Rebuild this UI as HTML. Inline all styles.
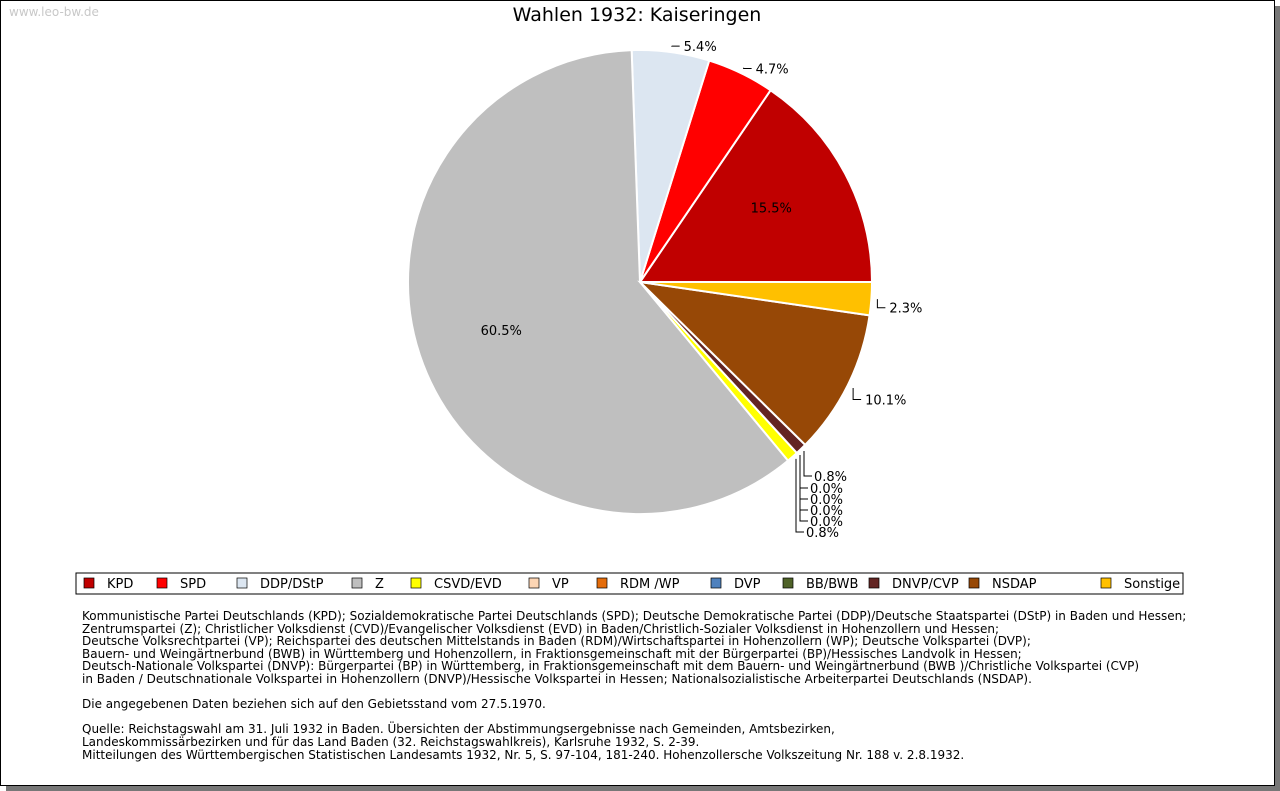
<!DOCTYPE html>
<html><head><meta charset="utf-8"><style>
body{margin:0;width:1280px;height:791px;background:#fff;font-family:"DejaVu Sans","Liberation Sans",sans-serif;overflow:hidden}
#frame{position:absolute;left:0;top:0;width:1273px;height:784px;border:1px solid #000;box-shadow:6px 6px 0 #777;background:#fff}
#wm{position:absolute;left:9px;top:5px;font-size:12px;color:#c8c8c8}
#notes{position:absolute;left:82px;top:610px;font-size:12px;line-height:12.6px;color:#000;white-space:pre}
</style></head><body>
<div id="frame"></div>
<div id="wm">www.leo-bw.de</div>
<svg id="chart" width="1280" height="600" style="position:absolute;left:0;top:0">
<text x="637" y="21" text-anchor="middle" font-size="19" font-family="DejaVu Sans, sans-serif">Wahlen 1932: Kaiseringen</text>
<g id="slices"></g><g id="labels"></g>
<rect x="76" y="573" width="1107" height="21" fill="#fff" stroke="#000" stroke-width="1"/>
<g id="legend"></g>
</svg>
<div id="notes">Kommunistische Partei Deutschlands (KPD); Sozialdemokratische Partei Deutschlands (SPD); Deutsche Demokratische Partei (DDP)/Deutsche Staatspartei (DStP) in Baden und Hessen;
Zentrumspartei (Z); Christlicher Volksdienst (CVD)/Evangelischer Volksdienst (EVD) in Baden/Christlich-Sozialer Volksdienst in Hohenzollern und Hessen;
Deutsche Volksrechtpartei (VP); Reichspartei des deutschen Mittelstands in Baden (RDM)/Wirtschaftspartei in Hohenzollern (WP); Deutsche Volkspartei (DVP);
Bauern- und Weingärtnerbund (BWB) in Württemberg und Hohenzollern, in Fraktionsgemeinschaft mit der Bürgerpartei (BP)/Hessisches Landvolk in Hessen;
Deutsch-Nationale Volkspartei (DNVP): Bürgerpartei (BP) in Württemberg, in Fraktionsgemeinschaft mit dem Bauern- und Weingärtnerbund (BWB )/Christliche Volkspartei (CVP)
in Baden / Deutschnationale Volkspartei in Hohenzollern (DNVP)/Hessische Volkspartei in Hessen; Nationalsozialistische Arbeiterpartei Deutschlands (NSDAP).

Die angegebenen Daten beziehen sich auf den Gebietsstand vom 27.5.1970.

Quelle: Reichstagswahl am 31. Juli 1932 in Baden. Übersichten der Abstimmungsergebnisse nach Gemeinden, Amtsbezirken,
Landeskommissärbezirken und für das Land Baden (32. Reichstagswahlkreis), Karlsruhe 1932, S. 2-39.
Mitteilungen des Württembergischen Statistischen Landesamts 1932, Nr. 5, S. 97-104, 181-240. Hohenzollersche Volkszeitung Nr. 188 v. 2.8.1932.</div>
<script>
const parties=["KPD","SPD","DDP/DStP","Z","CSVD/EVD","VP","RDM /WP","DVP","BB/BWB","DNVP/CVP","NSDAP","Sonstige"];
const shares=[15.5,4.7,5.4,60.5,0.8,0.0,0.0,0.0,0.0,0.8,10.1,2.3];
const colors=["#c00000","#ff0000","#dce6f1","#bfbfbf","#ffff00","#fcd5b4","#e46c0a","#4f81bd","#4f6228","#632523","#974806","#ffc000"];
const NS="http://www.w3.org/2000/svg";
const cx=640,cy=282,R=232;
const total=shares.reduce((a,b)=>a+b,0);
function pt(a,r){return [cx+r*Math.cos(a),cy-r*Math.sin(a)];}
function mk(tag,attrs,parent){const e=document.createElementNS(NS,tag);for(const k in attrs)e.setAttribute(k,attrs[k]);parent.appendChild(e);return e;}
const gS=document.getElementById('slices'),gL=document.getElementById('labels'),gLeg=document.getElementById('legend');
let a0=0;
const stackRows={4:532,5:521,6:510,7:499,8:488,9:476};
const stackX={4:796,5:800,6:800,7:800,8:800,9:804};
shares.forEach((v,i)=>{
  const sweep=v/total*2*Math.PI;const a1=a0+sweep;const mid=(a0+a1)/2;
  if(v>0){
    const [x0,y0]=pt(a0,R),[x1,y1]=pt(a1,R);
    const p=mk('path',{d:`M${cx},${cy}L${x0},${y0}A${R},${R} 0 ${sweep>Math.PI?1:0} 0 ${x1},${y1}Z`,fill:colors[i],stroke:'#fff','stroke-width':2},gS);
    
    
  }
  const txt=v.toFixed(1)+'%';
  let t;
  if(v>=15){
    const [lx,ly]=pt(mid,R*0.64);
    t=mk('text',{x:lx,y:ly,'text-anchor':'middle','font-size':13},gL);
  } else if(i in stackRows){
    const [ex,ey]=pt(mid,R);const ry=stackRows[i];const sx=stackX[i];
    mk('polyline',{points:`${sx},${ey+2} ${sx},${ry} ${sx+8},${ry}`,fill:'none',stroke:'#000'},gL);
    t=mk('text',{x:sx+10,y:ry+5,'font-size':13},gL);
  } else {
    const [ex,ey]=pt(mid,R+6);const [ox,oy]=pt(mid,R+14);
    const right=Math.cos(mid)>=0;
    mk('polyline',{points:`${ex},${ey} ${ex},${oy+8} ${ex+(right?8:-8)},${oy+8}`,fill:'none',stroke:'#000'},gL);
    t=mk('text',{x:ex+(right?12:-12),y:oy+13,'text-anchor':right?'start':'end','font-size':13},gL);
  }
  t.textContent=txt;
  
  
  a0=a1;
});
const legX=[84,157,237,352,411,529,597,711,783,869,969,1101];
parties.forEach((p,i)=>{
  const g=mk('g',{},gLeg);
  
  
  mk('rect',{x:legX[i],y:578,width:10,height:10,fill:colors[i],stroke:'#000','stroke-width':0.7},g);
  const t=mk('text',{x:legX[i]+23,y:588,'font-size':13},g);t.textContent=p;
});
</script>
</body></html>
